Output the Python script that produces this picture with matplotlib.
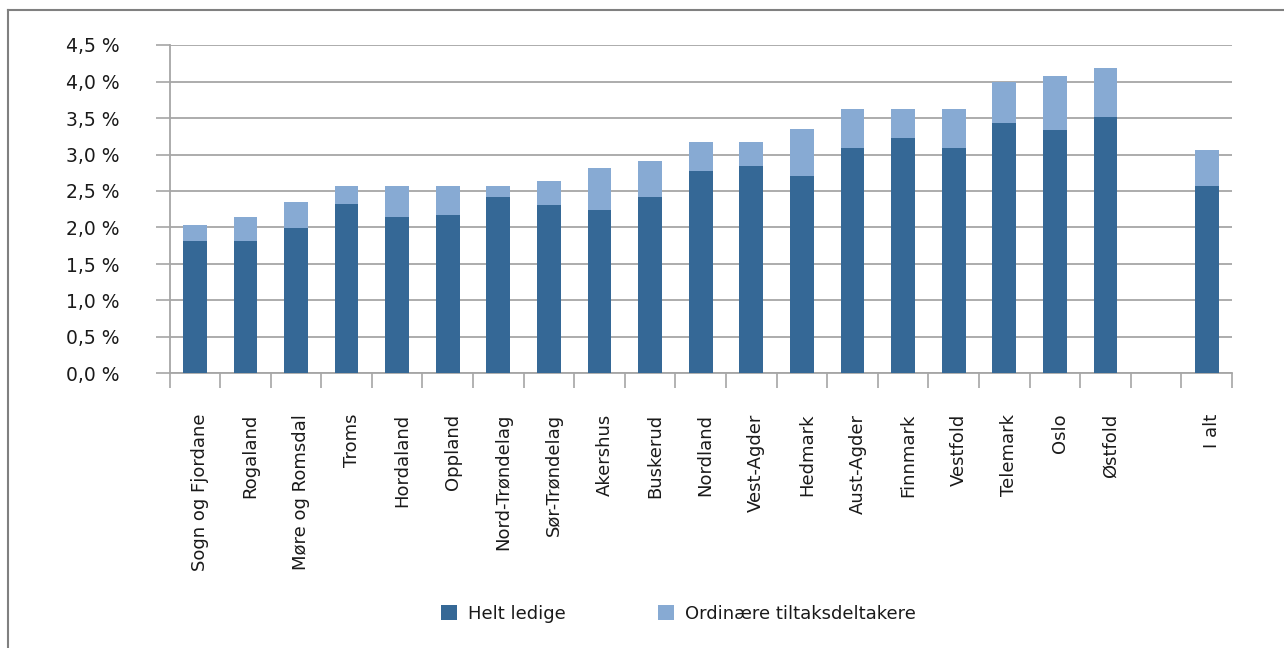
import matplotlib

matplotlib.use("Agg")
import matplotlib.pyplot as plt
from matplotlib.lines import Line2D
from matplotlib.ticker import FixedLocator, FuncFormatter
from matplotlib.transforms import ScaledTranslation
import numpy as np

# categories (the empty one is the gap before the total)
categories = ["Sogn og Fjordane", "Rogaland", "Møre og Romsdal", "Troms",
              "Hordaland", "Oppland", "Nord-Trøndelag", "Sør-Trøndelag",
              "Akershus", "Buskerud", "Nordland", "Vest-Agder", "Hedmark",
              "Aust-Agder", "Finnmark", "Vestfold", "Telemark", "Oslo",
              "Østfold", "", "I alt"]

# share of labour force, percent
helt_ledige = [1.81, 1.81, 1.99, 2.32, 2.14, 2.17, 2.42, 2.31, 2.24, 2.42,
               2.77, 2.84, 2.70, 3.09, 3.23, 3.09, 3.43, 3.33, 3.51, np.nan,
               2.57]
tiltaksdeltakere = [0.22, 0.33, 0.36, 0.25, 0.43, 0.40, 0.15, 0.33, 0.57,
                    0.49, 0.40, 0.33, 0.65, 0.53, 0.39, 0.53, 0.57, 0.74,
                    0.67, np.nan, 0.49]

DARK = "#356896"
LIGHT = "#87aad3"
GRID = "#a6a6a6"
TEXT = "#1a1a1a"

plt.rcParams["font.family"] = ["DejaVu Sans"]

fig = plt.figure(figsize=(12.84, 6.48), dpi=100)
W, H = 1284, 648
ax = fig.add_axes([169.5 / W, 1 - 373.5 / H, (1232 - 169.5) / W, (373.5 - 45) / H])

x = np.arange(len(categories))
ax.bar(x, helt_ledige, width=0.47, color=DARK, label="Helt ledige", zorder=3)
ax.bar(x, tiltaksdeltakere, width=0.47, bottom=helt_ledige, color=LIGHT,
       label="Ordinære tiltaksdeltakere", zorder=3)

ax.set_xlim(-0.5, len(categories) - 0.5)
ax.set_ylim(0, 4.5)

# y axis
ax.set_yticks(np.arange(0, 4.51, 0.5))
ax.yaxis.set_major_formatter(FuncFormatter(lambda v, p: f"{v:.1f}".replace(".", ",") + " %"))
ax.tick_params(axis="y", length=10, width=1.2, color=GRID, pad=26,
               labelsize=13.5, labelcolor=TEXT)
ax.grid(axis="y", color=GRID, linewidth=1.3, zorder=0)

# x axis: labels centred on bars, ticks on category borders
ax.set_xticks(x)
ax.set_xticklabels(categories, rotation=90, ha="center", va="top")
ax.tick_params(axis="x", which="major", length=0, pad=29, labelsize=13,
               labelcolor=TEXT)
shift = ScaledTranslation(5 / 100, 0, fig.dpi_scale_trans)
for lab in ax.get_xticklabels():
    lab.set_transform(lab.get_transform() + shift)
ax.xaxis.set_minor_locator(FixedLocator(np.arange(-0.5, len(categories), 1.0)))
ax.tick_params(axis="x", which="minor", length=11, width=1.2, color=GRID)

for s in ["top", "right"]:
    ax.spines[s].set_visible(False)
for s in ["left", "bottom"]:
    ax.spines[s].set_color(GRID)
    ax.spines[s].set_linewidth(1.3)

fig.legend(loc="center left", bbox_to_anchor=(432 / W, 1 - 614 / H),
           ncol=2, frameon=False, fontsize=13, handlelength=0.9,
           handleheight=0.9, handletextpad=0.6, columnspacing=5.1,
           borderpad=0, labelcolor=TEXT)

# outer frame (cropped on right and bottom)
fig.add_artist(Line2D([7.5 / W, 7.5 / W], [0, 1 - 9.5 / H], color="#808080",
                      linewidth=1.5))
fig.add_artist(Line2D([7.5 / W, 1], [1 - 9.5 / H, 1 - 9.5 / H], color="#808080",
                      linewidth=1.5))

fig.savefig("out.png", dpi=100)
